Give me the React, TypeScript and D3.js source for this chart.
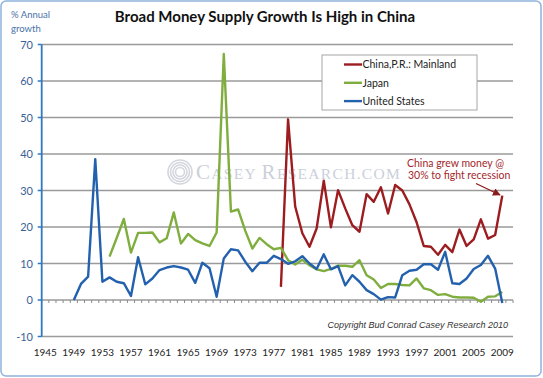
import React from "react";
import * as d3 from "d3";

const years: number[] = d3.range(1945, 2011);
const tickYears: number[] = d3.range(1945, 2010, 4);
const yTicks: number[] = [-10, 0, 10, 20, 30, 40, 50, 60, 70];

const usStart = 1949;
const usValues: number[] = [
  0, 4.4, 6.4, 38.6, 5.0, 6.2, 5.0, 4.6, 1.1, 11.7,
  4.3, 5.9, 8.2, 8.9, 9.3, 8.9, 8.3, 4.7, 10.2, 8.7,
  0.9, 11.4, 13.9, 13.6, 10.5, 7.9, 10.2, 10.2, 12.1, 11.2,
  9.9, 10.6, 12.0, 10.0, 8.5, 12.5, 8.4, 9.3, 4.0, 6.8,
  5.0, 2.7, 1.6, 0.1, 0.8, 0.7, 6.8, 8.0, 8.3, 9.8,
  9.8, 8.3, 13.2, 4.6, 4.4, 5.9, 8.5, 9.6, 12.1, 8.6,
  -0.8,
];

const japanStart = 1954;
const japanValues: number[] = [
  11.9, 17.0, 22.2, 13.0, 18.4, 18.4, 18.5, 15.8, 16.9, 24.0,
  15.5, 18.1, 16.4, 15.5, 14.8, 18.5, 67.4, 24.2, 24.8, 19.0,
  14.1, 17.0, 15.3, 13.9, 14.3, 10.9, 9.7, 11.0, 9.5, 8.4,
  7.9, 8.5, 9.4, 9.4, 9.1, 10.9, 6.8, 5.6, 3.3, 4.4,
  4.4, 4.1, 4.0, 5.9, 3.2, 2.7, 1.4, 1.6, 0.9, 0.7,
  0.7, 0.6, -0.5, 0.9, 1.0, 2.2,
];

const chinaStart = 1978;
const chinaValues: number[] = [
  3.6, 49.5, 25.6, 18.3, 14.6, 19.6, 32.7, 19.9, 30.1, 25.1,
  20.5, 18.7, 29.0, 26.9, 30.9, 23.7, 31.5, 30.0, 26.2, 21.3,
  14.8, 14.6, 12.4, 15.1, 13.1, 19.3, 14.8, 16.6, 22.1, 16.8,
  17.8, 28.6,
];

const seriesNames: string[] = ["China,P.R.: Mainland", "Japan", "United States"];
const seriesColors: string[] = ["#9c1c20", "#7fae3e", "#2361ae"];

type Pt = { year: number; value: number };
const toPts = (start: number, vals: number[]): Pt[] =>
  vals.map((v, i) => ({ year: start + i, value: v }));

const series: Pt[][] = [
  toPts(chinaStart, chinaValues),
  toPts(japanStart, japanValues),
  toPts(usStart, usValues),
];

const W = 543;
const H = 378;
const left = 41.7;
const right = 513;
const top = 44.5;
const bottom = 336.5;

export default function App() {
  const x = d3.scaleBand<number>().domain(years).range([left, right]).padding(0);
  const y = d3.scaleLinear().domain([-10, 70]).range([bottom, top]);
  const cx = (yr: number) => (x(yr) as number) + x.bandwidth() / 2;
  const line = d3
    .line<Pt>()
    .x((d) => cx(d.year))
    .y((d) => y(d.value));

  const font = "Lato, 'Noto Sans', sans-serif";
  const y0 = y(0);

  return (
    <svg
      width={W}
      height={H}
      style={{ position: "absolute", left: 0, top: 0, background: "#fff" }}
      fontFamily={font}
    >
      <defs>
        <marker id="arr" viewBox="0 0 10 10" refX="9" refY="5" markerWidth="6" markerHeight="6" orient="auto">
          <path d="M0,0 L10,5 L0,10 z" fill="#8b1a1d" />
        </marker>
      </defs>
      <rect x={1} y={1} width={W - 3} height={H - 3} rx={5} fill="#fff" stroke="#8fb2dc" strokeWidth={1.5} />

      {/* Title */}
      <text x={265} y={22} textAnchor="middle" fontSize={15} fontWeight="bold" fill="#111">
        Broad Money Supply Growth Is High in China
      </text>
      <text x={11} y={18} fontSize={9.5} fill="#4a72a8">% Annual</text>
      <text x={11} y={32} fontSize={9.5} fill="#4a72a8">growth</text>

      {/* Gridlines */}
      {yTicks.map((t) => (
        <line key={"g" + t} x1={left} x2={right} y1={y(t)} y2={y(t)} stroke="#9a9a9a" strokeWidth={1.5} />
      ))}

      {/* x-axis ticks at zero */}
      {years.concat([2011]).map((yr) => {
        const xx = yr === 2011 ? right : (x(yr) as number);
        return <line key={"xt" + yr} x1={xx} x2={xx} y1={y0} y2={y0 + 3} stroke="#8a8a8a" strokeWidth={1} />;
      })}

      {/* Watermark */}
      <g opacity={0.9}>
        {[12, 9.5, 7, 4.5].map((r) => (
          <circle key={"wm" + r} cx={180} cy={172} r={r} fill="none" stroke="#cfd2da" strokeWidth={1.6} />
        ))}
        <text x={196} y={179} fontFamily="'Liberation Serif', 'DejaVu Serif', serif" fill="#c6cbd7" letterSpacing={1.3}>
          <tspan fontSize={21}>C</tspan>
          <tspan fontSize={15.5}>ASEY </tspan>
          <tspan fontSize={21}>R</tspan>
          <tspan fontSize={15.5}>ESEARCH.COM</tspan>
        </text>
      </g>

      {/* Y axis */}
      <line x1={left} x2={left} y1={top} y2={bottom} stroke="#2f78c4" strokeWidth={1.8} />
      {yTicks.map((t) => (
        <g key={"yt" + t}>
          <line x1={left - 4} x2={left} y1={y(t)} y2={y(t)} stroke="#2f78c4" strokeWidth={1.5} />
          <text x={33} y={y(t) + 4} textAnchor="end" fontSize={11} fill="#3a5f95">
            {t}
          </text>
        </g>
      ))}

      {/* X labels */}
      {tickYears.map((yr) => (
        <text key={"xl" + yr} x={cx(yr)} y={356} textAnchor="middle" fontSize={10} fill="#222">
          {yr}
        </text>
      ))}

      {/* Series */}
      {series.map((s, i) => (
        <path key={"s" + i} d={line(s) || ""} fill="none" stroke={seriesColors[i]} strokeWidth={2.4} strokeLinejoin="round" />
      ))}

      {/* Legend */}
      <rect x={322} y={55} width={155} height={55} fill="#fff" stroke="#a6a6a6" strokeWidth={1} />
      {seriesNames.map((n, i) => (
        <g key={"lg" + i}>
          <line x1={344} x2={362} y1={64.5 + i * 18.3} y2={64.5 + i * 18.3} stroke={seriesColors[i]} strokeWidth={2.4} />
          <text x={362.5} y={68.3 + i * 18.3} fontSize={10.5} fill="#222">
            {n}
          </text>
        </g>
      ))}

      {/* Annotation */}
      <text x={407} y={166.5} fontSize={10.5} fill="#a3282b">China grew money @</text>
      <text x={408} y={178.5} fontSize={10.5} fill="#a3282b">30% to fight recession</text>
      <line x1={476} y1={183.5} x2={500} y2={195} stroke="#8b1a1d" strokeWidth={1.3} markerEnd="url(#arr)" />

      {/* Copyright */}
      <text x={508} y={327.5} textAnchor="end" fontSize={9} fontStyle="italic" fontFamily="'Liberation Sans', Arial, sans-serif" fill="#333">
        Copyright Bud Conrad Casey Research 2010
      </text>
    </svg>
  );
}
